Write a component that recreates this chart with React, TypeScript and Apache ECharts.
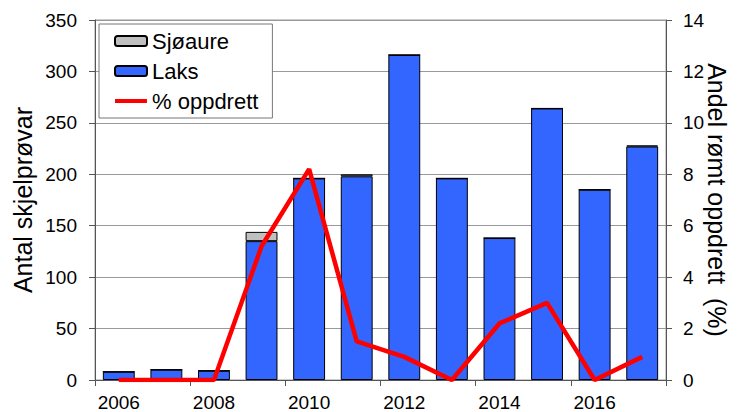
import React, { useEffect, useRef } from "react";
import * as echarts from "echarts";

const years = ["2006", "2007", "2008", "2009", "2010", "2011", "2012", "2013", "2014", "2015", "2016", "2017"];
const laks = [8, 10, 9, 135, 196, 198, 316, 196, 138, 264, 185, 227];
const sjoaure = [0, 0, 0, 9, 0, 2, 0, 0, 0, 0, 0, 1];
const oppdrett = [0, 0, 0, 5.2, 8.2, 1.5, 0.9, 0, 2.2, 3.0, 0, 0.9];

const FONT = "Liberation Sans, Arial, sans-serif";
const LINE_ICON = "path://M0,3h36v4.5h-36z M0,0h0.05v0.05h-0.05z M36,10.5h0.05v0.05h-0.05z";

export default function App() {
  const ref = useRef<HTMLDivElement>(null);
  useEffect(() => {
    if (!ref.current) return;
    const chart = echarts.init(ref.current, null, { renderer: "svg" });
    chart.setOption({
      animation: false,
      backgroundColor: "#fff",
      textStyle: { fontFamily: FONT },
      grid: {
        left: 95,
        right: 73,
        top: 20,
        bottom: 32,
        show: true,
        borderColor: "#999",
        borderWidth: 1,
        containLabel: false,
        outerBoundsMode: "none",
      },
      legend: {
        left: 99,
        top: 24,
        orient: "vertical",
        data: [
          { name: "Sjøaure" },
          { name: "Laks" },
          { name: "% oppdrett", icon: LINE_ICON, itemStyle: { color: "#FF0000", borderWidth: 0 } },
        ],
        backgroundColor: "#fff",
        borderColor: "#777",
        borderWidth: 1,
        borderRadius: 0,
        padding: [6, 14, 6, 15],
        itemGap: 8,
        itemWidth: 32,
        itemHeight: 10,
        itemTextGap: 4,
        textStyle: { fontSize: 22, color: "#000", fontFamily: FONT },
      },
      xAxis: {
        type: "category",
        data: years,
        boundaryGap: true,
        axisLine: { lineStyle: { color: "#555" } },
        axisTick: { show: true, length: 6, lineStyle: { color: "#555" } },
        axisLabel: { interval: 1, fontSize: 19, color: "#000", margin: 13, fontFamily: FONT },
      },
      yAxis: [
        {
          type: "value",
          min: 0,
          max: 350,
          interval: 50,
          name: "Antal skjelprøvar",
          nameLocation: "middle",
          nameGap: 60,
          nameMoveOverlap: false,
          nameTextStyle: { fontSize: 25, color: "#000", fontFamily: FONT },
          axisLine: { show: true, lineStyle: { color: "#555" } },
          axisTick: { show: true, length: 6, lineStyle: { color: "#555" } },
          axisLabel: { fontSize: 19, color: "#000", margin: 18, fontFamily: FONT },
          splitLine: { lineStyle: { color: "#999" } },
        },
        {
          type: "value",
          min: 0,
          max: 14,
          interval: 2,
          name: "Andel rømt oppdrett  (%)",
          nameLocation: "middle",
          nameRotate: -90,
          nameGap: 38,
          nameMoveOverlap: false,
          nameTextStyle: { fontSize: 25, color: "#000", fontFamily: FONT },
          axisLine: { show: true, lineStyle: { color: "#555" } },
          axisTick: { show: true, length: 6, lineStyle: { color: "#555" } },
          axisLabel: { fontSize: 19, color: "#000", margin: 17, fontFamily: FONT },
          splitLine: { show: false },
        },
      ],
      series: [
        {
          name: "Laks",
          type: "bar",
          stack: "a",
          data: laks,
          barWidth: "67%",
          itemStyle: { color: "#3366FF", borderColor: "#000", borderWidth: 1 },
        },
        {
          name: "Sjøaure",
          type: "bar",
          stack: "a",
          data: sjoaure,
          barWidth: "67%",
          itemStyle: { color: "#C0C0C0", borderColor: "#000", borderWidth: 1 },
        },
        {
          name: "% oppdrett",
          type: "line",
          yAxisIndex: 1,
          data: oppdrett,
          symbol: "none",
          lineStyle: { color: "#FF0000", width: 4.5 },
          itemStyle: { color: "#FF0000" },
        },
      ],
    });
    return () => chart.dispose();
  }, []);
  return <div ref={ref} style={{ width: 739, height: 412, position: "absolute", left: 0, top: 0 }} />;
}
